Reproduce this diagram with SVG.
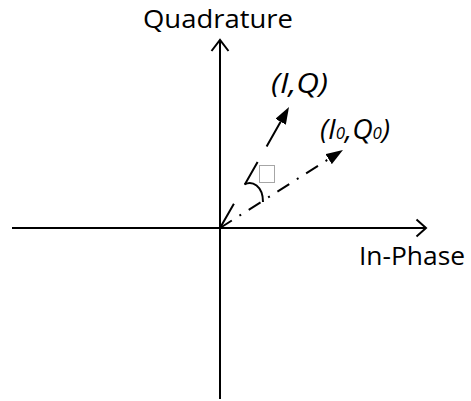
<svg xmlns="http://www.w3.org/2000/svg" width="471" height="401" viewBox="0 0 471 401">
<style>
  .axis { stroke: #000; stroke-width: 2; fill: none; }
  .vec { stroke: #000; stroke-width: 2; fill: none; }
  .lbl { font-family: "Open Sans", "DejaVu Sans", sans-serif; font-size: 26px; fill: #000; }
  .it { font-style: italic; font-size: 27px; }
  .sub { font-size: 16px; }
</style>
<defs>
  <marker id="tri" viewBox="0 0 17 12" refX="0" refY="6" markerWidth="17" markerHeight="12" markerUnits="userSpaceOnUse" orient="auto">
    <path d="M0,0 L17,6 L0,12 z" fill="#000"/>
  </marker>
</defs>
<rect width="471" height="401" fill="#fff"/>
<g id="connectors">
  <g id="axis-q">
    <path class="axis" d="M220,399 L220,40"/>
    <path class="axis" d="M211.5,51 L220,40 L228.5,51"/>
  </g>
  <g id="axis-i">
    <path class="axis" d="M12,228 L426,228"/>
    <path class="axis" d="M416.5,219.5 L426,228 L416.5,236.5"/>
  </g>
  <path id="vec-iq" class="vec" d="M220,228 L233.9,203.7 M244.8,184.6 L257.6,162 M266.6,146.4 L280.6,121.8" marker-end="url(#tri)"/>
  <path id="vec-i0q0" class="vec" d="M220,228 L328.6,159.1" stroke-dasharray="14 9 2 9" marker-end="url(#tri)"/>
  <path id="angle-arc" class="vec" d="M244.5,184.5 C252,180 263,186 263,202"/>
</g>
<g id="label-quadrature">
  <text class="lbl" x="143" y="28" textLength="150" lengthAdjust="spacingAndGlyphs">Quadrature</text>
</g>
<g id="label-inphase">
  <text class="lbl" x="359" y="265" textLength="106" lengthAdjust="spacingAndGlyphs">In-Phase</text>
</g>
<g id="label-iq">
  <text class="lbl it" x="271" y="93" textLength="57" lengthAdjust="spacingAndGlyphs">(I,Q)</text>
</g>
<g id="label-i0q0">
  <text class="lbl it" x="320" y="138.5" textLength="70" lengthAdjust="spacingAndGlyphs">(I<tspan class="sub">0</tspan>,Q<tspan class="sub">0</tspan>)</text>
</g>
<g id="angle-label">
  <rect x="259.5" y="165.5" width="15" height="17" fill="none" stroke="#a6a6a6" stroke-width="1"/>
</g>
</svg>
